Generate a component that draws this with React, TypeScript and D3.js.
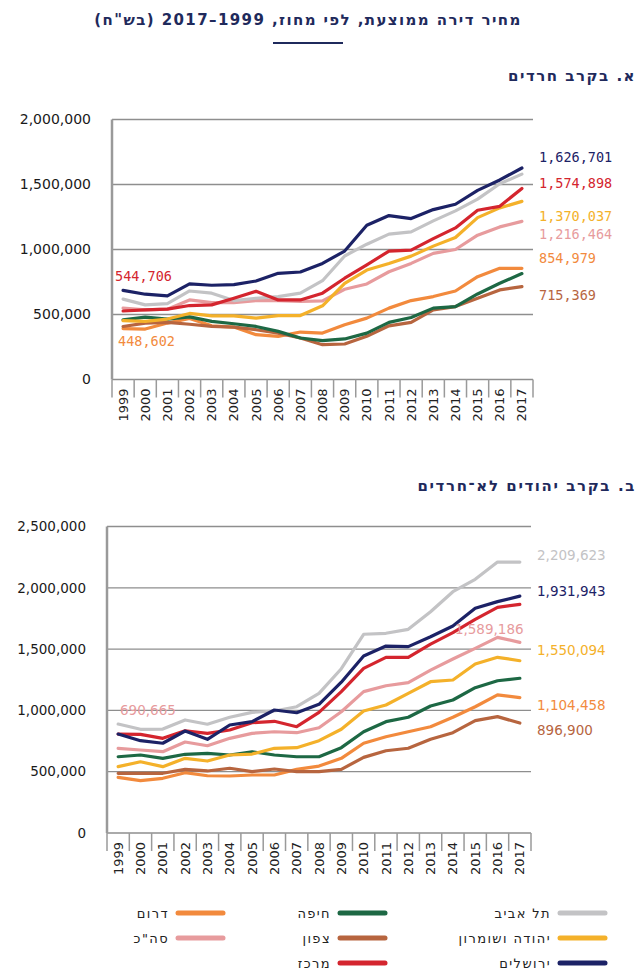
import React from 'react'
import * as d3 from 'd3'

// years on the x axis
const YEARS = ['1999', '2000', '2001', '2002', '2003', '2004', '2005', '2006', '2007', '2008', '2009', '2010', '2011', '2012', '2013', '2014', '2015', '2016', '2017']

// series keys, legend names and colours
const SERIES_KEYS = ['south', 'north', 'haifa', 'total', 'judea', 'telAviv', 'center', 'jerusalem']
const SERIES_NAMES: Record<string, string> = {
  telAviv: 'תל אביב',
  judea: 'יהודה ושומרון',
  jerusalem: 'ירושלים',
  haifa: 'חיפה',
  north: 'צפון',
  center: 'מרכז',
  south: 'דרום',
  total: 'סה"כ',
}
const SERIES_COLORS: Record<string, string> = {
  telAviv: '#c3c3c5',
  judea: '#f4b12a',
  jerusalem: '#1c2266',
  haifa: '#1d6844',
  north: '#b7653f',
  center: '#d4252e',
  south: '#f28a3d',
  total: '#e79b9d',
}

// א. בקרב חרדים (thousands NIS)
const haredTelAviv = [618, 574, 584, 681, 664, 607, 625, 638, 664, 760, 950, 1041, 1118, 1136, 1220, 1297, 1388, 1506, 1580]
const haredJerusalem = [686, 656, 643, 735, 725, 730, 758, 817, 827, 893, 988, 1187, 1261, 1238, 1307, 1348, 1455, 1535, 1627]
const haredCenter = [527, 536, 541, 569, 574, 625, 678, 612, 612, 664, 779, 881, 988, 995, 1084, 1166, 1302, 1332, 1470]
const haredJudea = [453, 447, 465, 508, 490, 490, 472, 492, 492, 567, 740, 842, 893, 949, 1026, 1092, 1245, 1320, 1370]
const haredTotal = [549, 536, 541, 612, 592, 592, 607, 607, 600, 605, 694, 735, 829, 893, 970, 1000, 1110, 1174, 1216]
const haredSouth = [392, 388, 434, 470, 413, 403, 345, 332, 365, 357, 421, 472, 549, 607, 638, 681, 791, 855, 855]
const haredHaifa = [459, 480, 465, 482, 447, 429, 408, 370, 319, 299, 312, 357, 439, 477, 549, 561, 658, 740, 815]
const haredNorth = [408, 434, 439, 425, 408, 403, 383, 357, 319, 268, 273, 332, 413, 439, 536, 561, 625, 689, 715]

// ב. בקרב יהודים לא־חרדים (thousands NIS)
const nonHaredTelAviv = [889, 846, 848, 922, 887, 944, 984, 995, 1030, 1139, 1340, 1621, 1629, 1661, 1805, 1968, 2069, 2210, 2210]
const nonHaredJerusalem = [807, 753, 732, 832, 764, 881, 908, 1003, 981, 1050, 1230, 1444, 1525, 1520, 1601, 1688, 1833, 1887, 1932]
const nonHaredCenter = [807, 805, 772, 834, 813, 840, 900, 911, 867, 984, 1153, 1343, 1433, 1433, 1541, 1634, 1743, 1841, 1865]
const nonHaredTotal = [691, 677, 663, 742, 712, 772, 813, 826, 818, 859, 989, 1153, 1201, 1226, 1329, 1419, 1506, 1596, 1555]
const nonHaredJudea = [541, 581, 541, 609, 587, 636, 644, 691, 696, 753, 846, 995, 1044, 1139, 1234, 1248, 1378, 1433, 1405]
const nonHaredHaifa = [622, 636, 609, 642, 650, 636, 663, 636, 622, 622, 696, 826, 908, 944, 1036, 1085, 1185, 1242, 1262]
const nonHaredSouth = [454, 427, 446, 492, 467, 465, 473, 473, 519, 546, 609, 732, 785, 826, 867, 944, 1030, 1126, 1104]
const nonHaredNorth = [487, 487, 487, 519, 506, 528, 500, 522, 500, 500, 519, 617, 671, 691, 764, 818, 916, 949, 897]

const TICKS_A = [0, 500000, 1000000, 1500000, 2000000]
const TICKS_B = [0, 500000, 1000000, 1500000, 2000000, 2500000]

// value labels: text, series colour, value where the label sits, side
const LABEL_TEXT_A = ['1,626,701', '1,574,898', '1,370,037', '1,216,464', '854,979', '715,369', '544,706', '448,602']
const LABEL_KEY_A = ['jerusalem', 'center', 'judea', 'total', 'south', 'north', 'center', 'south']
const LABEL_AT_A = [1707000, 1508000, 1256000, 1118000, 934000, 651000, 796000, 291000]
const LABEL_SIDE_A = ['end', 'end', 'end', 'end', 'end', 'end', 'start', 'start']

const LABEL_TEXT_B = ['2,209,623', '1,931,943', '1,589,186', '1,550,094', '1,104,458', '896,900', '690,665']
const LABEL_KEY_B = ['telAviv', 'jerusalem', 'total', 'judea', 'south', 'north', 'total']
const LABEL_AT_B = [2267000, 1974000, 1664000, 1493000, 1040000, 836000, 1003000]
const LABEL_SIDE_B = ['end', 'end', 'mid', 'end', 'end', 'end', 'start']

// legend layout: columns right to left
const LEGEND_COLUMNS = [
  ['telAviv', 'judea', 'jerusalem'],
  ['haifa', 'north', 'center'],
  ['south', 'total'],
]

const NAVY = '#1f2a5c'
const GRID = '#8e8e8e'

const seriesA: Record<string, number[]> = {
  telAviv: haredTelAviv, jerusalem: haredJerusalem, center: haredCenter, judea: haredJudea,
  total: haredTotal, south: haredSouth, haifa: haredHaifa, north: haredNorth,
}
const seriesB: Record<string, number[]> = {
  telAviv: nonHaredTelAviv, jerusalem: nonHaredJerusalem, center: nonHaredCenter, judea: nonHaredJudea,
  total: nonHaredTotal, south: nonHaredSouth, haifa: nonHaredHaifa, north: nonHaredNorth,
}

interface PanelProps {
  series: Record<string, number[]>
  ticks: number[]
  left: number
  right: number
  top: number
  bottom: number
  tickX: number
  tickSize: number
  labelText: string[]
  labelKey: string[]
  labelAt: number[]
  labelSide: string[]
  labelFont: string
}

function Panel(p: PanelProps) {
  const x = d3.scaleBand().domain(YEARS).range([p.left, p.right]).padding(0)
  const y = d3.scaleLinear().domain([0, p.ticks[p.ticks.length - 1]]).range([p.bottom, p.top])
  const cx = (yr: string) => (x(yr) as number) + x.bandwidth() / 2
  const line = d3.line<number>()
    .x((_, i) => cx(YEARS[i]))
    .y(d => y(d * 1000))

  return (
    <g>
      {p.ticks.map(t => (
        <g key={t}>
          <line x1={p.left} x2={p.right} y1={y(t)} y2={y(t)} stroke={GRID} strokeWidth={1.3} />
          <text x={p.tickX} y={y(t)} dy="0.35em" textAnchor="end" fontSize={p.tickSize}
            fontFamily="'DejaVu Sans', sans-serif" fill="#1a1a1a">{d3.format(',')(t)}</text>
        </g>
      ))}
      <line x1={p.left} x2={p.left} y1={p.top} y2={p.bottom} stroke="#9a9a9a" strokeWidth={2.5} />
      {YEARS.map(yr => (
        <g key={yr}>
          <line x1={(x(yr) as number) + x.bandwidth()} x2={(x(yr) as number) + x.bandwidth()}
            y1={p.bottom} y2={p.bottom + 18} stroke="#9a9a9a" strokeWidth={1.5} />
          <text transform={`translate(${cx(yr)},${p.bottom + 9}) rotate(-90)`} dy="0.35em"
            textAnchor="end" fontSize={13} fontFamily="'DejaVu Sans', sans-serif" fill="#222">{yr}</text>
        </g>
      ))}
      <line x1={p.left} x2={p.left} y1={p.bottom} y2={p.bottom + 18} stroke="#9a9a9a" strokeWidth={1.5} />
      {SERIES_KEYS.map(k => (
        <path key={k} d={line(p.series[k]) as string} fill="none" stroke={SERIES_COLORS[k]}
          strokeWidth={3.2} strokeLinejoin="round" strokeLinecap="round" />
      ))}
      {p.labelText.map((t, i) => {
        const side = p.labelSide[i]
        const lx = side === 'end' ? p.right + 6 : side === 'mid' ? cx('2014') + 2 : p.left + 3 + (t === '448,602' ? 3 : 0) + (t === '690,665' ? 10 : 0)
        return (
          <text key={i} x={lx} y={y(p.labelAt[i])} dy="0.35em" fontSize={13.5}
            fontFamily={p.labelFont} fill={SERIES_COLORS[p.labelKey[i]]}>{t}</text>
        )
      })}
    </g>
  )
}

export default function App() {
  const heb = "'DejaVu Sans', sans-serif"
  return (
    <svg width={643} height={973} style={{ position: 'absolute', left: 0, top: 0, background: '#fff' }}>
      <text x={308} y={20} dy="0.35em" textAnchor="middle" direction="rtl" fontSize={15}
        fontWeight="bold" letterSpacing={1.4} fontFamily={heb} fill={NAVY}>
        מחיר דירה ממוצעת, לפי מחוז, 1999–2017 (בש"ח)
      </text>
      <line x1={273} x2={343} y1={43} y2={43} stroke={NAVY} strokeWidth={2} />
      <text x={636} y={76} dy="0.35em" textAnchor="start" direction="rtl" fontSize={15}
        fontWeight="bold" letterSpacing={1.5} fontFamily={heb} fill={NAVY}>
        א. בקרב חרדים
      </text>
      <Panel series={seriesA} ticks={TICKS_A} left={112} right={533} top={119.5} bottom={379.5}
        tickX={91} tickSize={14} labelText={LABEL_TEXT_A} labelKey={LABEL_KEY_A} labelAt={LABEL_AT_A}
        labelSide={LABEL_SIDE_A} labelFont="'DejaVu Sans Mono', monospace" />
      <text x={636} y={486} dy="0.35em" textAnchor="start" direction="rtl" fontSize={15}
        fontWeight="bold" letterSpacing={1.6} fontFamily={heb} fill={NAVY}>
        ב. בקרב יהודים לא־חרדים
      </text>
      <Panel series={seriesB} ticks={TICKS_B} left={107} right={531} top={526.5} bottom={833}
        tickX={86} tickSize={13.5} labelText={LABEL_TEXT_B} labelKey={LABEL_KEY_B} labelAt={LABEL_AT_B}
        labelSide={LABEL_SIDE_B} labelFont="'DejaVu Sans', sans-serif" />
      {LEGEND_COLUMNS.map((col, ci) => {
        const lineX = [560, 340, 178][ci]
        return col.map((k, ri) => {
          const ly = 913 + ri * 25
          return (
            <g key={k}>
              <line x1={lineX} x2={lineX + 45} y1={ly} y2={ly} stroke={SERIES_COLORS[k]}
                strokeWidth={5} strokeLinecap="round" />
              <text x={lineX - 9} y={ly} dy="0.35em" textAnchor="start" direction="rtl"
                fontSize={13} letterSpacing={1.4} fontFamily={heb} fill="#222">{SERIES_NAMES[k]}</text>
            </g>
          )
        })
      })}
    </svg>
  )
}
